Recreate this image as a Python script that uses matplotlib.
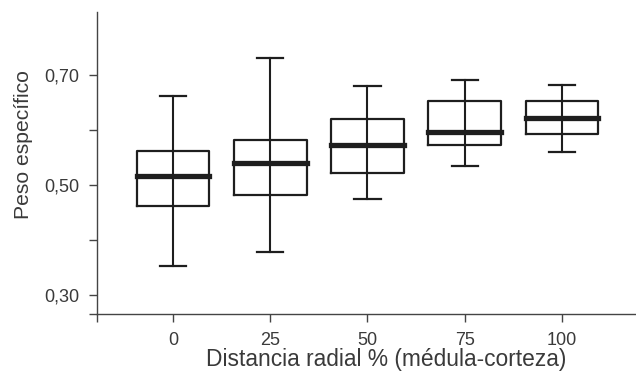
import matplotlib

matplotlib.use("Agg")

import matplotlib.pyplot as plt
from matplotlib.ticker import FixedLocator, FuncFormatter

# datos
positions = [0, 25, 50, 75, 100]
whisker_low = [0.352, 0.378, 0.475, 0.535, 0.560]
q1 = [0.461, 0.481, 0.521, 0.572, 0.592]
medians = [0.517, 0.540, 0.572, 0.596, 0.622]
q3 = [0.561, 0.581, 0.620, 0.652, 0.653]
whisker_high = [0.662, 0.731, 0.680, 0.691, 0.681]

x_label = "Distancia radial % (médula-corteza)"
y_label = "Peso específico"

ink = "#1e1e1e"
text_color = "#3a3a3a"
plt.rcParams["font.family"] = ["Liberation Sans", "DejaVu Sans"]

fig = plt.figure(figsize=(6.36, 3.75), dpi=100)
ax = fig.add_axes([97 / 636, 61 / 375, 1 - 97 / 636, (314 - 12) / 375])

stats = [
    {"med": m, "q1": a, "q3": b, "whislo": lo, "whishi": hi, "fliers": []}
    for m, a, b, lo, hi in zip(medians, q1, q3, whisker_low, whisker_high)
]
ax.bxp(
    stats,
    positions=positions,
    widths=18.7,
    capwidths=6.8,
    showfliers=False,
    boxprops=dict(color=ink, linewidth=1.6),
    whiskerprops=dict(color=ink, linewidth=1.5),
    capprops=dict(color=ink, linewidth=1.6),
    medianprops=dict(color=ink, linewidth=3.8, solid_capstyle="projecting"),
)
# the whisker line runs straight through the box
ax.vlines(positions, q1, q3, color=ink, linewidth=1.5, zorder=1)

ax.set_xlim(-19.5, 119)
ax.set_ylim(0.2655, 0.8145)

ax.xaxis.set_major_locator(FixedLocator(positions))
ax.xaxis.set_minor_locator(FixedLocator([-19.5]))
ax.yaxis.set_major_locator(FixedLocator([0.30, 0.50, 0.70]))
ax.yaxis.set_minor_locator(FixedLocator([0.2655, 0.40, 0.60]))
ax.yaxis.set_major_formatter(FuncFormatter(lambda v, _: f"{v:.2f}".replace(".", ",")))
ax.set_xticklabels([str(p) for p in positions])

for side in ("top", "right"):
    ax.spines[side].set_visible(False)
for side in ("left", "bottom"):
    ax.spines[side].set_color("#444444")
    ax.spines[side].set_linewidth(1.0)

ax.tick_params(which="both", direction="out", length=6, width=1.0, color="#444444",
               labelcolor=text_color, labelsize=13, pad=7)
ax.tick_params(axis="x", which="major", pad=7)

ax.set_xlabel(x_label, fontsize=16.4, color=text_color, labelpad=3)
ax.set_ylabel(y_label, fontsize=15.2, color=text_color, labelpad=8)
ax.xaxis.set_label_coords(0.536, -0.112)
ax.yaxis.label.set_y(0.56)

fig.savefig("out.png", dpi=100)
